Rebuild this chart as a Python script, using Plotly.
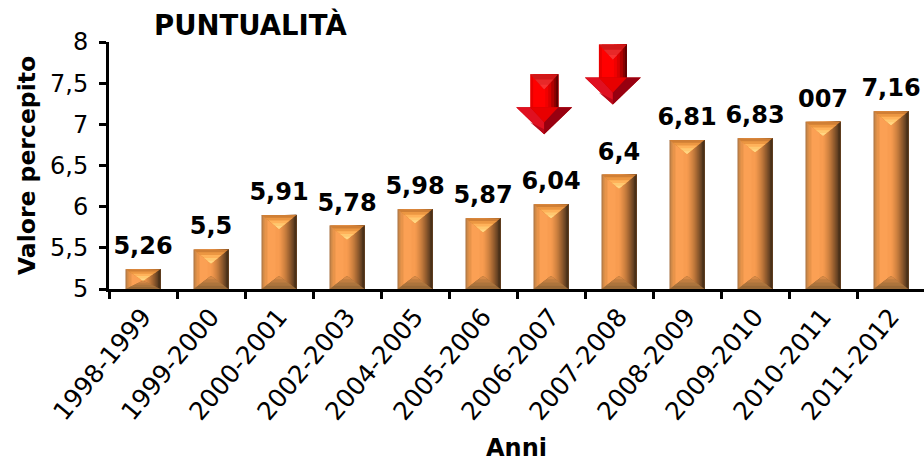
import plotly.graph_objects as go

categories = ["1998-1999","1999-2000","2000-2001","2002-2003","2004-2005","2005-2006",
              "2006-2007","2007-2008","2008-2009","2009-2010","2010-2011","2011-2012"]
bar_values = [5.24,5.48,5.90,5.77,5.97,5.86,6.03,6.39,6.81,6.83,7.03,7.16]
bar_labels = ["5,26","5,5","5,91","5,78","5,98","5,87","6,04","6,4","6,81","6,83","007","7,16"]
y_ticks = [5,5.5,6,6.5,7,7.5,8]
y_ticktext = ["5","5,5","6","6,5","7","7,5","8"]
arrow_positions = [5.9,6.91]
arrow_tip_values = [6.88,7.24]

W,H=924,462
L,R,T,B=109,925,42,289
n=len(categories)
xr=(-0.5,n-0.5)
xr_vis=(xr[0],xr[0]+(W-L)/68.0)
yr=(5,8)
pxx=(R-L)/n
pxy=(B-T)/(yr[1]-yr[0])

fig=go.Figure()
idx=list(range(n))
bw=35/pxx
strips=[(0,"#a87040"),(1,"#d08a48"),(3,"#e8944a"),(6,"#fba054"),(14,"#f89c50"),(18,"#ef964c"),(20,"#e08c46"),
        (22,"#d08240"),(24,"#bc763a"),(26,"#a56733"),(28,"#8c592c"),(30,"#724926"),(32,"#593a1e"),(33,"#4a3018")]
for off,c in strips:
    fig.add_trace(go.Bar(x=idx,y=[v-yr[0] for v in bar_values],base=yr[0],
        width=(35-off)/pxx,offset=-bw/2+off/pxx,marker=dict(color=c,line_width=0),
        hoverinfo="skip",showlegend=False))
fig.add_trace(go.Scatter(x=idx,y=[v+9/pxy for v in bar_values],mode="text",text=bar_labels,textposition="top center",
    textfont=dict(family="DejaVu Sans",size=24,color="black",weight="bold"),showlegend=False,hoverinfo="skip",cliponaxis=False))

shapes=[]
def poly(pts,color,xref="x",yref="y"):
    d="M "+" L ".join(f"{x:.4f},{y:.4f}" for x,y in pts)+" Z"
    shapes.append(dict(type="path",path=d,xref=xref,yref=yref,fillcolor=color,line_width=0,layer="above"))

top_cols=["#d07f35","#ec9742","#ffb25a","#ffc870","#ffd684"]
bot_cols=["#9a6a38","#ac743c","#c07d40","#d88a46"]
for i,v in zip(idx,bar_values):
    h=(v-yr[0])*pxy
    dt=min(14,h*0.58); db=min(13,h*0.42)
    hw=17.5/pxx
    for k,c in enumerate(top_cols):
        f=k/len(top_cols)
        poly([(i-hw*(1-f),v-dt*f/pxy),(i+hw*(1-f),v-dt*f/pxy),(i,v-dt/pxy)],c)
    for k,c in enumerate(bot_cols):
        f=k/len(bot_cols)
        poly([(i-hw*(1-f),yr[0]+db*f/pxy),(i+hw*(1-f),yr[0]+db*f/pxy),(i,yr[0]+db/pxy)],c)

def arrow(cx,tip):
    X=lambda dx:cx+dx/pxx
    Y=lambda dy:tip+dy/pxy
    poly([(X(-14),Y(60)),(X(14),Y(60)),(X(14),Y(26)),(X(-14),Y(26))],"#e80000")
    for off,c in [(3,"#ff0000"),(15,"#f00000"),(18,"#d80000"),(21,"#b00000"),(24,"#880000"),(26,"#600000")]:
        poly([(X(-14+off),Y(60)),(X(14),Y(60)),(X(14),Y(26)),(X(-14+off),Y(26))],c)
    for f,c in [(0,"#d01818"),(0.35,"#e82828"),(0.7,"#f83030")]:
        poly([(X(-14*(1-f)),Y(60-15*f)),(X(14*(1-f)),Y(60-15*f)),(X(0),Y(45))],c)
    poly([(X(-28),Y(27)),(X(28),Y(27)),(X(0),Y(0))],"#c00000")
    poly([(X(-28),Y(27)),(X(-14),Y(27)),(X(0),Y(12)),(X(0),Y(0))],"#e01020")
    poly([(X(-14),Y(12)),(X(0),Y(5)),(X(0),Y(0))],"#b80818")
    poly([(X(28),Y(27)),(X(14),Y(27)),(X(0),Y(12)),(X(0),Y(0))],"#980010")
    poly([(X(-14),Y(27)),(X(14),Y(27)),(X(0),Y(12))],"#e80000")
for cx,tip in zip(arrow_positions,arrow_tip_values):
    arrow(cx,tip)

fig.update_layout(
    width=W,height=H,autosize=False,margin=dict(l=L,r=0,t=T,b=H-B,pad=0),
    paper_bgcolor="white",plot_bgcolor="white",barmode="overlay",showlegend=False,
    shapes=shapes,font=dict(family="DejaVu Sans",color="black"),
    title=dict(text="PUNTUALITÀ",x=154/W,xanchor="left",y=1-25/H,yanchor="middle",
               font=dict(family="DejaVu Sans",size=27.5,color="black",weight="bold")),
    xaxis=dict(range=xr_vis,tickmode="array",tickvals=idx,ticktext=categories,ticks="",
        tickangle=-50,tickfont=dict(family="DejaVu Sans",size=25,color="black"),
        showgrid=False,zeroline=False,showline=True,linecolor="black",linewidth=3,
        minor=dict(tickmode="array",tickvals=[i-0.5 for i in range(n+1)],ticks="outside",ticklen=7,tickwidth=2.5,tickcolor="black",showgrid=False),
        title=dict(text="Anni",font=dict(family="DejaVu Sans",size=24,color="black",weight="bold"),standoff=18)),
    yaxis=dict(range=yr,tickmode="array",tickvals=y_ticks,ticktext=y_ticktext,ticks="outside",ticklen=7,tickwidth=2.5,
        ticklabelstandoff=6,tickcolor="black",tickfont=dict(family="DejaVu Sans",size=24,color="black"),
        showgrid=False,zeroline=False,showline=True,linecolor="black",linewidth=3,
        title=dict(text="Valore percepito",font=dict(family="DejaVu Sans",size=23.5,color="black",weight="bold"),standoff=8)),
)
fig.write_html("out.html",post_script="document.body.style.margin='0';",config=dict(displayModeBar=False))
